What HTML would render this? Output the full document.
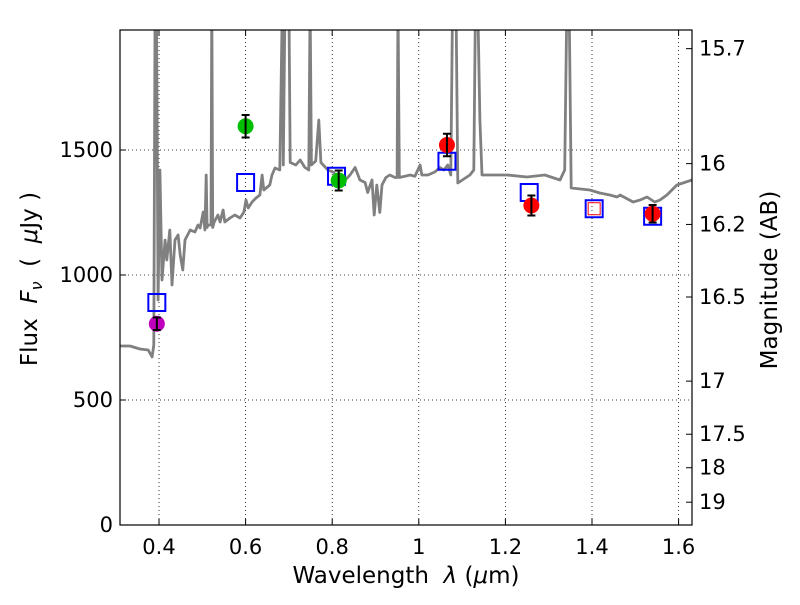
<!DOCTYPE html>
<html><head><meta charset="utf-8"><style>
body{margin:0;background:#fff;}
svg text{font-family:"DejaVu Sans","Liberation Sans",sans-serif;fill:#000;}
</style></head><body>
<svg id="chart" width="800" height="600" xmlns="http://www.w3.org/2000/svg">
<rect width="800" height="600" fill="#fff"/>
<defs><clipPath id="plotclip"><rect x="120" y="30" width="572" height="495"/></clipPath></defs>
<g id="grid"></g>
<g id="spec" clip-path="url(#plotclip)"></g>
<g id="marks"></g>
<g id="axes"></g>
<text x="406" y="583" font-size="23" text-anchor="middle" xml:space="preserve">Wavelength  <tspan font-style="italic">λ</tspan> (<tspan font-style="italic">μ</tspan>m)</text>
<text transform="translate(37,279) rotate(-90)" font-size="23" text-anchor="middle" xml:space="preserve">Flux  <tspan font-style="italic">F</tspan><tspan font-style="italic" font-size="16" dy="5">ν</tspan><tspan dy="-5">  (  </tspan><tspan font-style="italic">μ</tspan>Jy )</text>
<text transform="translate(777,280) rotate(-90)" font-size="23" text-anchor="middle">Magnitude (AB)</text>
</svg>
<script>
const xTicks=[0.4,0.6,0.8,1.0,1.2,1.4,1.6];
const xTickLabels=["0.4","0.6","0.8","1","1.2","1.4","1.6"];
const yTicks=[0,500,1000,1500];
const magTicks=[15.7,16,16.2,16.5,17,17.5,18,19];
const specLam=[
0.310,0.333,0.356,0.375,0.384,0.388,0.391,0.394,0.398,0.402,
0.407,0.414,0.418,0.425,0.430,0.437,0.444,0.449,0.455,0.460,
0.472,0.483,0.490,0.495,0.502,0.506,0.509,0.511,0.513,0.520,
0.522,0.524,0.527,0.536,0.541,0.548,0.552,0.564,0.575,0.587,
0.596,0.601,0.606,0.615,0.624,0.633,0.638,0.642,0.656,0.661,
0.668,0.679,0.685,0.687,0.691,0.700,0.703,0.716,0.726,0.737,
0.746,0.749,0.752,0.762,0.769,0.774,0.790,0.804,0.813,0.822,
0.830,0.841,0.853,0.864,0.876,0.882,0.892,0.897,0.903,0.910,
0.915,0.924,0.933,0.945,0.950,0.952,0.955,0.968,0.980,0.991,
1.003,1.007,1.021,1.037,1.049,1.058,1.067,1.074,1.078,1.086,
1.090,1.118,1.127,1.131,1.136,1.141,1.146,1.164,1.204,1.250,
1.291,1.326,1.337,1.342,1.347,1.352,1.395,1.418,1.441,1.458,
1.465,1.495,1.511,1.527,1.545,1.557,1.573,1.596,1.631];
const specFlux=[
716,716,704,700,672,720,2100,2100,900,1420,
980,1140,1060,1180,960,1140,1160,1080,1020,1140,
1180,1172,1200,1188,1252,1180,1400,1190,1200,1200,
2100,1190,1210,1240,1212,1260,1212,1228,1240,1228,
1252,1300,1268,1292,1308,1320,1400,1340,1360,1400,
1428,1420,2100,1440,2100,2100,1450,1440,1460,1430,
1420,2100,1440,1456,1620,1450,1420,1410,1380,1400,
1380,1400,1430,1380,1370,1330,1380,1240,1360,1250,
1360,1390,1400,1390,1390,2100,1390,1395,1400,1395,
1440,1400,1400,1412,1430,1420,1440,1400,2100,2100,
1368,1400,1420,2100,2100,1620,1400,1400,1400,1392,
1400,1380,1420,2100,2100,1348,1340,1328,1320,1312,
1320,1292,1300,1312,1292,1300,1320,1360,1380];
const obsLam=[0.395,0.600,0.815,1.065,1.260,1.540];
const obsFlux=[805,1595,1378,1520,1278,1245];
const obsErr=[25,45,40,45,40,35];
const obsColor=["#bf00bf","#00bf00","#00bf00","#ff0000","#ff0000","#ff0000"];
const modLam=[0.395,0.600,0.810,1.065,1.255,1.405,1.540];
const modFlux=[890,1370,1395,1455,1330,1265,1235];

const X=v=>159+(v-0.4)*433;
const Y=f=>525-f*0.25;
const magToFlux=m=>Math.pow(10,(23.9-m)/2.5);
const NS="http://www.w3.org/2000/svg";
function mk(tag,attrs,parent){const e=document.createElementNS(NS,tag);for(const k in attrs)e.setAttribute(k,attrs[k]);parent.appendChild(e);return e;}
const grid=document.getElementById('grid'),axes=document.getElementById('axes'),spec=document.getElementById('spec'),marks=document.getElementById('marks');

xTicks.forEach((t,i)=>{
  const gl=mk('line',{x1:X(t),x2:X(t),y1:30,y2:525,stroke:'#000','stroke-width':0.8,'stroke-dasharray':'1,3'},grid);
  
  
  mk('line',{x1:X(t),x2:X(t),y1:525,y2:519,stroke:'#000','stroke-width':1},axes);
  mk('line',{x1:X(t),x2:X(t),y1:30,y2:36,stroke:'#000','stroke-width':1},axes);
  const tx=mk('text',{x:X(t),y:554,'font-size':21,'text-anchor':'middle'},axes);
  tx.textContent=xTickLabels[i];
  
  
});
yTicks.forEach(t=>{
  if(t>0){const gl=mk('line',{x1:120,x2:692,y1:Y(t),y2:Y(t),stroke:'#000','stroke-width':0.8,'stroke-dasharray':'1,3'},grid);
  
  }
  mk('line',{x1:120,x2:126,y1:Y(t),y2:Y(t),stroke:'#000','stroke-width':1},axes);
  const tx=mk('text',{x:113,y:Y(t)+7,'font-size':21,'text-anchor':'end'},axes);
  tx.textContent=String(t);
  
  
});
magTicks.forEach(m=>{
  const y=Y(magToFlux(m));
  mk('line',{x1:686,x2:692,y1:y,y2:y,stroke:'#000','stroke-width':1},axes);
  const tx=mk('text',{x:699,y:y+7,'font-size':21},axes);
  tx.textContent=String(m);
  
  
});
const fr=mk('rect',{x:120,y:30,width:572,height:495,fill:'none',stroke:'#000','stroke-width':1.2},axes);



let d='';specLam.forEach((l,i)=>{d+=(i?'L':'M')+X(l).toFixed(1)+','+Y(specFlux[i]).toFixed(1);});
const sp=mk('path',{d:d,fill:'none',stroke:'#808080','stroke-width':2.8,'stroke-linejoin':'round'},spec);



modLam.forEach((l,i)=>{
  const s=mk('rect',{x:X(l)-8.5,y:Y(modFlux[i])-8.5,width:17,height:17,fill:'none',stroke:'#0000ff','stroke-width':2},marks);
  
  
});
const rs=mk('rect',{x:X(modLam[5])-6,y:Y(modFlux[5])-6,width:12,height:12,fill:'none',stroke:'#ff0000','stroke-width':1},marks);



obsLam.forEach((l,i)=>{
  const cx=X(l),cy=Y(obsFlux[i]);
  const c=mk('circle',{cx:cx,cy:cy,r:8,fill:obsColor[i]},marks);
  
  
  const y1=Y(obsFlux[i]+obsErr[i]),y2=Y(obsFlux[i]-obsErr[i]);
  const eb=mk('path',{d:`M${cx},${y1}L${cx},${y2}M${cx-4},${y1}L${cx+4},${y1}M${cx-4},${y2}L${cx+4},${y2}`,stroke:'#000','stroke-width':2,fill:'none'},marks);
  
  
});
</script>
</body></html>
